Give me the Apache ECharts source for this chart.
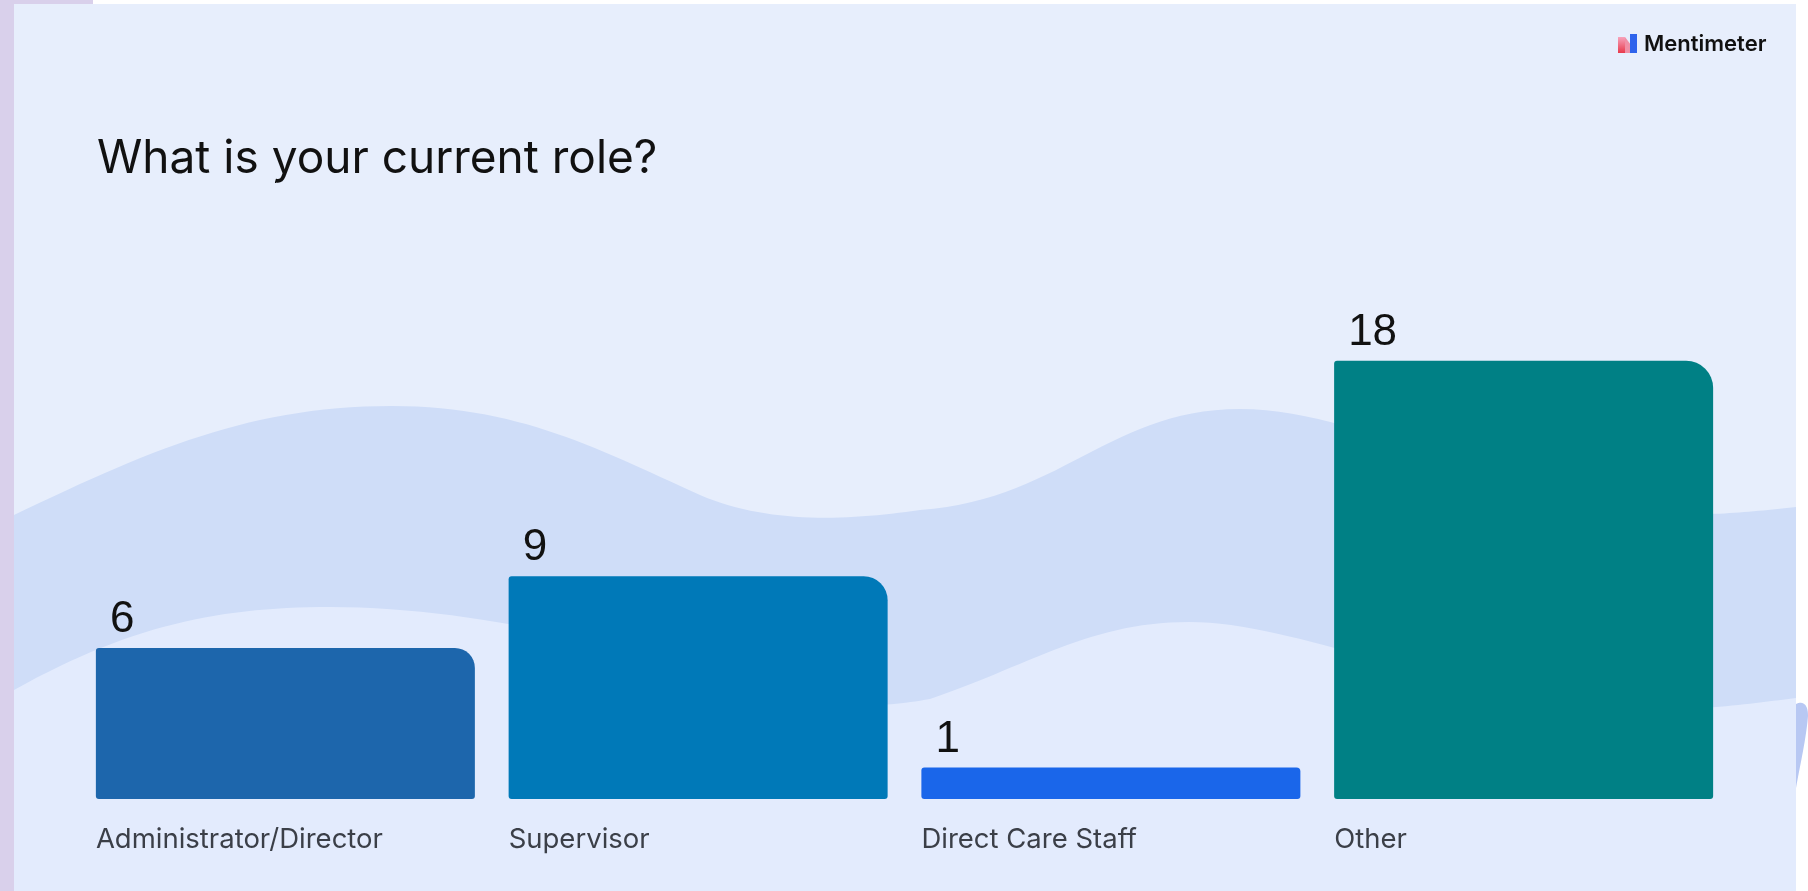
<!DOCTYPE html>
<html><head><meta charset="utf-8">
<script src="https://cdn.jsdelivr.net/npm/echarts@6/dist/echarts.min.js"></script>
<style>html,body{margin:0;padding:0;background:#fff;}#c{width:1808px;height:891px;}</style>
</head><body><div id="c"></div>
<script>
// ---- data ----
const categories = ['Administrator/Director', 'Supervisor', 'Direct Care Staff', 'Other'];
const values = [6, 9, 1, 18];
const titleText = 'What is your current role?';
const brandText = 'Mentimeter';

// ---- styles ----
const barColors = ['#1D66AC', '#0079B8', '#1A66EA', '#008085'];
const topRadius = [20, 24, 4, 27];
const BAR_WIDTH = 379;   // px
const FLOOR_PX = 7.5;    // visual foot added under every bar (style)

function sampleBeziers(start, segs) {
  const pts = [start.slice()];
  let p0 = start;
  segs.forEach(s => {
    const [c1x, c1y, c2x, c2y, x, y] = s;
    for (let i = 1; i <= 30; i++) {
      const t = i / 30, u = 1 - t;
      pts.push([
        u*u*u*p0[0] + 3*u*u*t*c1x + 3*u*t*t*c2x + t*t*t*x,
        u*u*u*p0[1] + 3*u*u*t*c1y + 3*u*t*t*c2y + t*t*t*y
      ]);
    }
    p0 = [x, y];
  });
  return pts;
}
const upperBand = sampleBeziers([14, 515], [
  [150, 450, 250, 406, 392, 406],
  [520, 406, 600, 450, 700, 495],
  [770, 525, 850, 520, 920, 510],
  [1060, 500, 1110, 409, 1240, 409],
  [1370, 409, 1500, 505, 1650, 513],
  [1700, 517, 1750, 512, 1796, 507]
]).concat([[1796, 891], [14, 891]]);
const lowerBand = sampleBeziers([14, 690], [
  [130, 625, 220, 607, 330, 607],
  [480, 607, 640, 650, 780, 692],
  [840, 708, 880, 708, 930, 699],
  [1030, 665, 1090, 622, 1189, 622],
  [1290, 622, 1420, 685, 1600, 706],
  [1680, 714, 1740, 705, 1796, 698]
]).concat([[1796, 891], [14, 891]]);
const sliver = sampleBeziers([1796, 704], [
  [1802, 701, 1808, 703, 1808, 716],
  [1806, 740, 1800, 765, 1796, 788]
]);

const chart = echarts.init(document.getElementById('c'), null, {renderer: 'canvas'});
chart.setOption({
  backgroundColor: 'transparent',
  animation: false,
  title: {
    text: titleText, left: 92, top: 131,
    textStyle: {fontFamily: 'Inter', fontSize: 46, fontWeight: 400, color: '#111111'}
  },
  graphic: {
    elements: [
      {type: 'rect', z: -10, silent: true, shape: {x: 0, y: 0, width: 14, height: 891}, style: {fill: '#D9D0EB'}},
      {type: 'rect', z: -10, silent: true, shape: {x: 0, y: 0, width: 93, height: 4}, style: {fill: '#D9D0EB'}},
      {type: 'rect', z: -9, silent: true, shape: {x: 14, y: 4, width: 1782, height: 887}, style: {fill: '#E7EEFC'}},
      {type: 'polygon', z: -8, silent: true, shape: {points: upperBand}, style: {fill: '#CFDDF8'}},
      {type: 'polygon', z: -7, silent: true, shape: {points: lowerBand}, style: {fill: '#E3EBFD'}},
      {type: 'polygon', z: -7, silent: true, shape: {points: sliver}, style: {fill: '#B8C8F3'}},
      // logo icon
      {type: 'polygon', z: 5, silent: true, shape: {points: [[1618, 37], [1625, 37], [1625, 53], [1618, 53]]},
        style: {fill: new echarts.graphic.LinearGradient(0, 0, 0, 1, [{offset: 0, color: '#F7A3BC'}, {offset: 1, color: '#E8394B'}])}},
      {type: 'polygon', z: 5, silent: true, shape: {points: [[1625, 37], [1631, 45], [1631, 53], [1625, 53]]},
        style: {fill: '#F08FA6'}},
      {type: 'polygon', z: 5, silent: true, shape: {points: [[1630, 34], [1637, 34], [1637, 53], [1630, 53], [1630, 44]]},
        style: {fill: '#2E63EC'}},
      {type: 'text', z: 5, silent: true, left: 1644, top: 33,
        style: {text: brandText, font: '600 22px Inter', fill: '#111111'}}
    ]
  },
  grid: {left: 79, right: 78, bottom: 92, height: 478.6, outerBoundsMode: 'none', containLabel: false},
  xAxis: {
    type: 'category', data: categories,
    axisLine: {show: false}, axisTick: {show: false}, splitLine: {show: false},
    axisLabel: {
      interval: 0, margin: 27, align: 'center',
      formatter: v => '{n|' + v + '}',
      rich: {n: {width: BAR_WIDTH, align: 'left', fontFamily: 'Inter', fontSize: 27.5, color: '#3B3F48'}}
    }
  },
  yAxis: {type: 'value', min: 0, max: 20, show: false, splitLine: {show: false}},
  series: [{
    type: 'custom', silent: true,
    data: values.map((v, i) => [i, v]),
    encode: {x: 0, y: 1},
    renderItem: (params, api) => {
      const i = api.value(0), v = api.value(1);
      const top = api.coord([i, v]);
      const base = api.coord([i, 0]);
      const x = top[0] - BAR_WIDTH / 2;
      const yTop = top[1] - FLOOR_PX;
      return {
        type: 'group',
        children: [
          {type: 'rect', shape: {x: x, y: yTop, width: BAR_WIDTH, height: base[1] - yTop, r: [3, topRadius[i], 3, 3]},
            style: {fill: barColors[i]}},
          {type: 'text', x: x + 14, y: yTop - 6,
            style: {text: String(values[i]), font: '44px "Liberation Sans"', fill: '#111111',
              align: 'left', verticalAlign: 'bottom'}}
        ]
      };
    }
  }]
});
</script></body></html>
